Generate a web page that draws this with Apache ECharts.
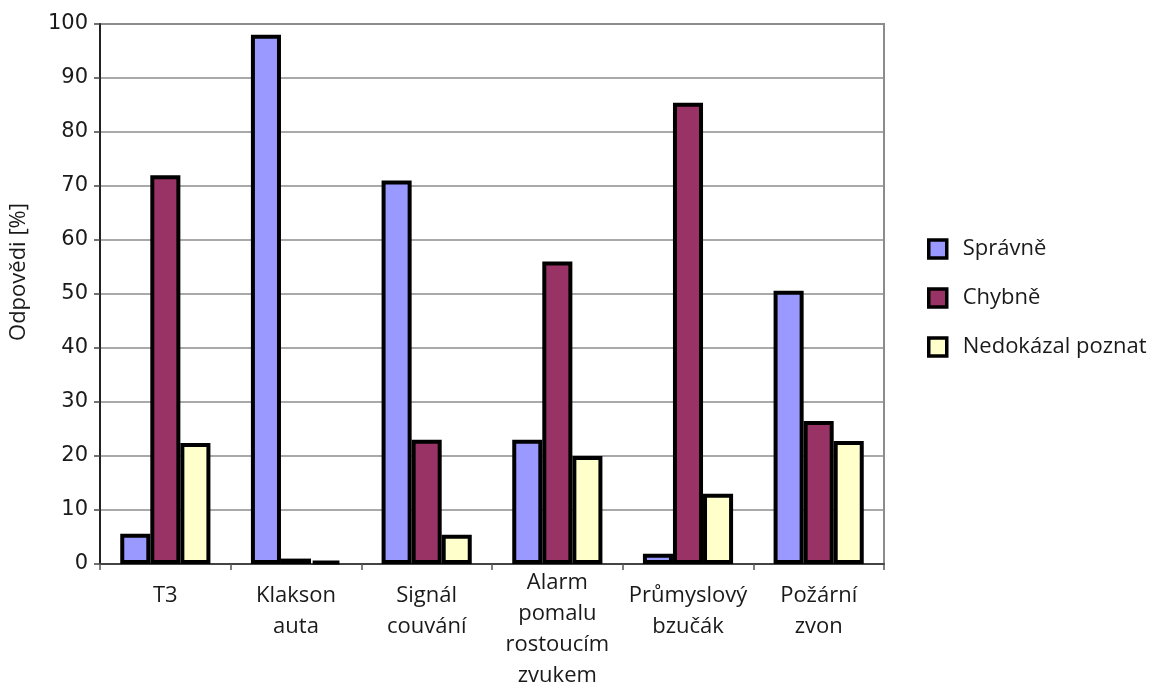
<!DOCTYPE html>
<html>
<head>
<meta charset="utf-8">
<script src="https://cdn.jsdelivr.net/npm/echarts@6/dist/echarts.min.js"></script>
<style>
  html, body { margin: 0; padding: 0; background: #fff; }
  #chart { width: 1152px; height: 691px; }
</style>
</head>
<body>
<div id="chart"></div>
<script>
// Responses per sound signal, in percent
const categories = [
  'T3',
  'Klakson\nauta',
  'Signál\ncouvání',
  'Alarm\npomalu\nrostoucím\nzvukem',
  'Průmyslový\nbzučák',
  'Požární\nzvon'
];
const seriesNames = ['Správně', 'Chybně', 'Nedokázal poznat'];
const spravne   = [5.6, 98, 71, 23, 1.9, 50.6];
const chybne    = [72, 1, 23, 56, 85.4, 26.5];
const nedokazal = [22.4, 0.6, 5.4, 20, 13, 22.8];
const yTicks = [0, 10, 20, 30, 40, 50, 60, 70, 80, 90, 100];

const colors = ['#9999FF', '#993366', '#FFFFCC'];
const values = [spravne, chybne, nedokazal];

const labelFont = '"Open Sans", sans-serif';

// The four-line label sits a little higher so it fits under the axis
const categoryData = categories.map(function (c) {
  const lines = c.split('\n').length;
  if (lines > 3) {
    return { value: c, textStyle: { padding: [-13, 0, 0, 0] } };
  }
  return c;
});

const chart = echarts.init(document.getElementById('chart'), null, { renderer: 'canvas' });

chart.setOption({
  animation: false,
  backgroundColor: '#ffffff',
  grid: {
    left: 99, top: 24, right: 268, bottom: 127,
    show: true, borderColor: '#8c8c8c', borderWidth: 2, backgroundColor: 'transparent'
  },
  legend: {
    orient: 'vertical',
    left: 927, top: 238,
    padding: 0,
    itemWidth: 18, itemHeight: 18, itemGap: 27,
    icon: 'rect',
    itemStyle: { borderColor: '#000', borderWidth: 3.5 },
    textStyle: { fontFamily: labelFont, fontSize: 22, lineHeight: 20, color: '#1a1a1a', padding: [0, 0, 0, 11] },
    data: seriesNames
  },
  xAxis: {
    type: 'category',
    data: categoryData,
    axisLine: { show: true, lineStyle: { color: '#444', width: 2 } },
    axisTick: { show: true, length: 6, alignWithLabel: false, lineStyle: { color: '#555', width: 1.5 } },
    axisLabel: {
      interval: 0, margin: 16,
      fontFamily: labelFont, fontSize: 22, lineHeight: 31, color: '#1a1a1a'
    },
    splitLine: { show: false }
  },
  yAxis: {
    type: 'value',
    min: yTicks[0], max: yTicks[yTicks.length - 1], interval: 10,
    name: 'Odpovědi [%]',
    nameLocation: 'middle',
    nameGap: 70,
    nameRotate: 90,
    nameTextStyle: { fontFamily: labelFont, fontSize: 22, color: '#1a1a1a', padding: [0, 0, 0, 44] },
    axisLine: { show: true, lineStyle: { color: '#222', width: 2 } },
    axisTick: { show: true, length: 6, lineStyle: { color: '#444', width: 1.5 } },
    axisLabel: { fontFamily: '"DejaVu Sans", sans-serif', fontSize: 21, color: '#1a1a1a', margin: 12 },
    splitLine: { show: true, lineStyle: { color: '#8c8c8c', width: 1.5 } }
  },
  series: seriesNames.map(function (name, i) {
    return {
      name: name,
      type: 'bar',
      data: values[i],
      barGap: '0%',
      barCategoryGap: '31%',
      itemStyle: { color: colors[i], borderColor: '#000', borderWidth: 4 }
    };
  })
});
</script>
</body>
</html>
